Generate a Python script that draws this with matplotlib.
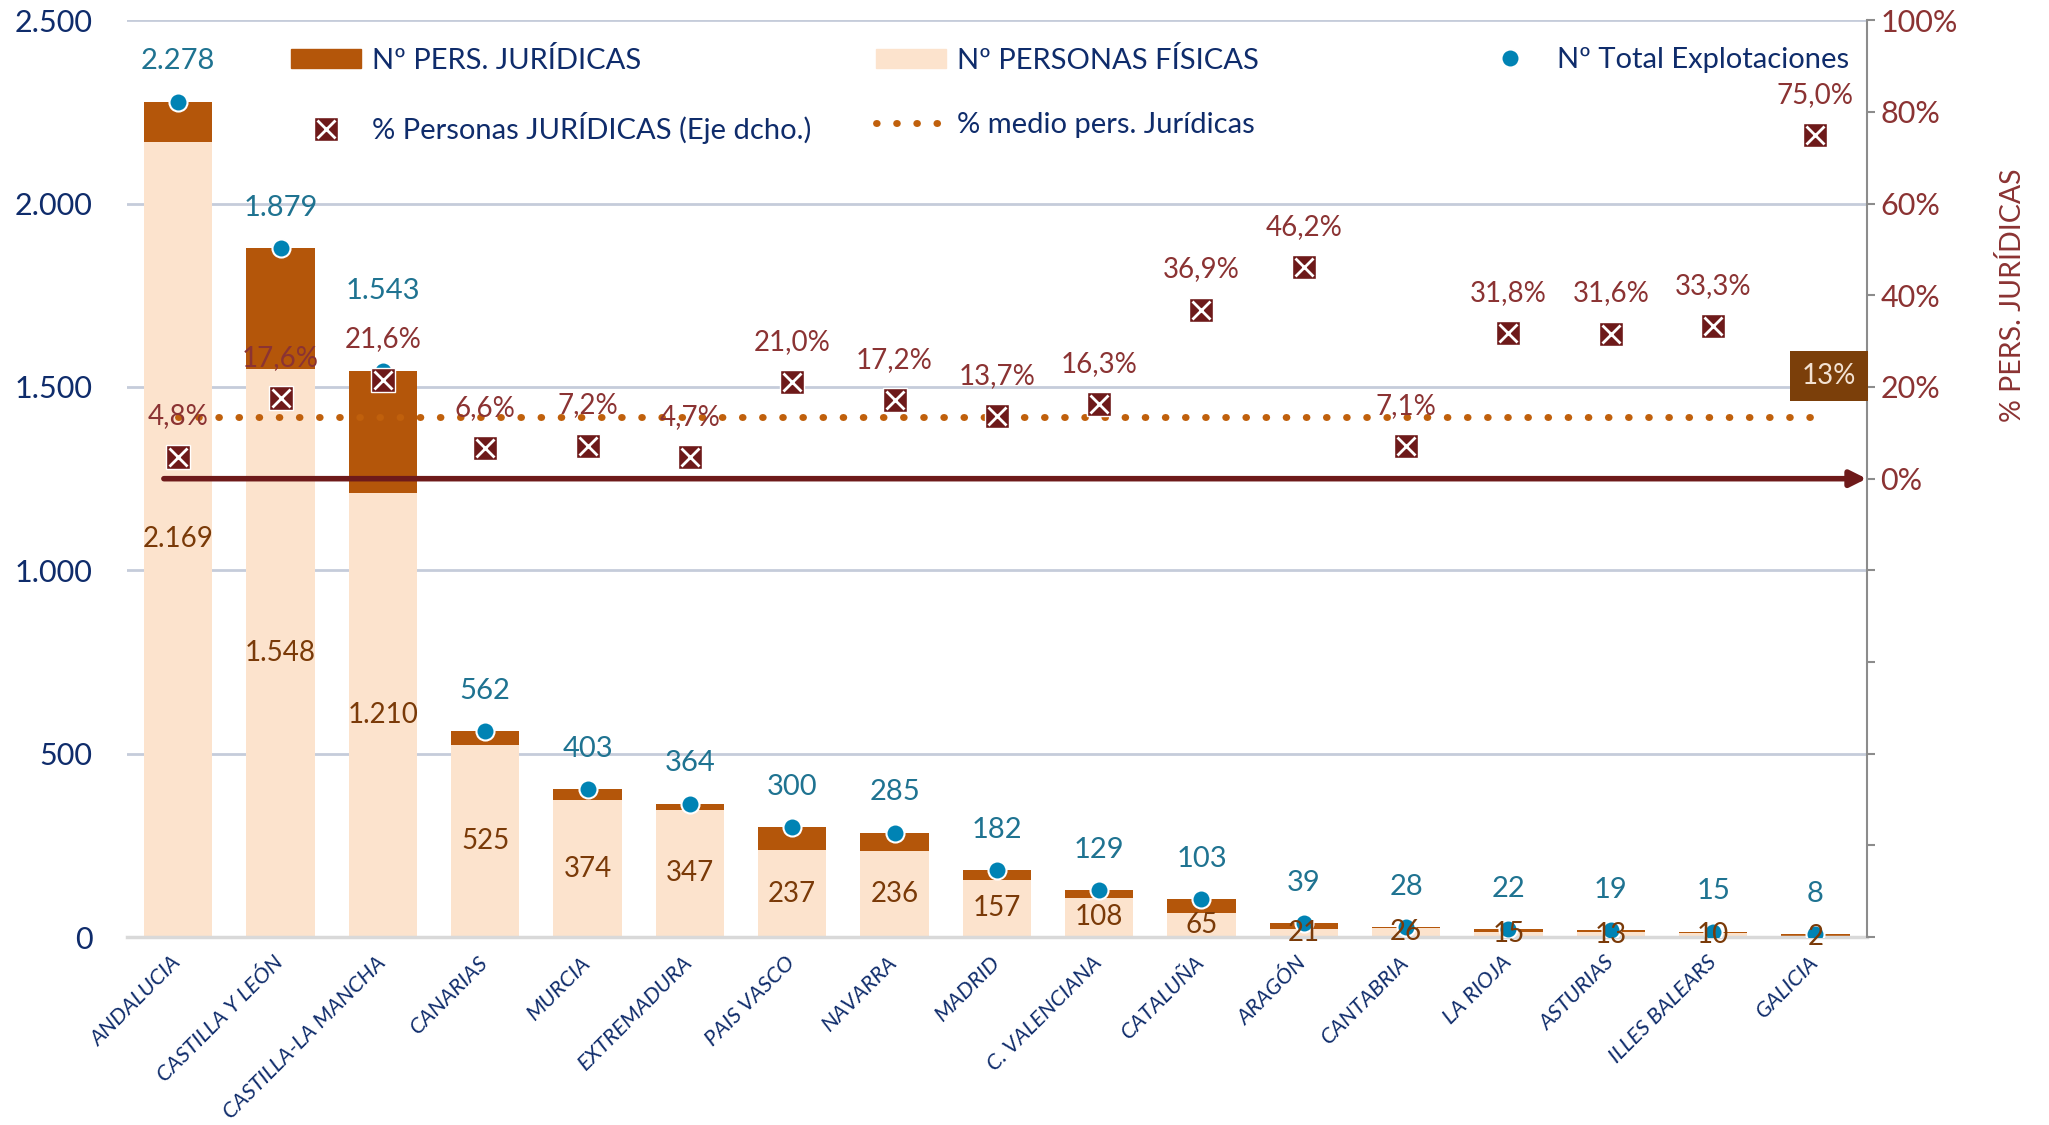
import matplotlib.pyplot as plt
from matplotlib.lines import Line2D
from matplotlib.patches import Patch
from matplotlib.ticker import MultipleLocator, FuncFormatter

regiones = ["ANDALUCIA", "CASTILLA Y LEÓN", "CASTILLA-LA MANCHA", "CANARIAS", "MURCIA",
            "EXTREMADURA", "PAIS VASCO", "NAVARRA", "MADRID", "C. VALENCIANA", "CATALUÑA",
            "ARAGÓN", "CANTABRIA", "LA RIOJA", "ASTURIAS", "ILLES BALEARS", "GALICIA"]
total = [2278, 1879, 1543, 562, 403, 364, 300, 285, 182, 129, 103, 39, 28, 22, 19, 15, 8]
fisicas = [2169, 1548, 1210, 525, 374, 347, 237, 236, 157, 108, 65, 21, 26, 15, 13, 10, 2]
juridicas = [t - f for t, f in zip(total, fisicas)]
pct_jur = [4.8, 17.6, 21.6, 6.6, 7.2, 4.7, 21.0, 17.2, 13.7, 16.3, 36.9, 46.2, 7.1, 31.8, 31.6, 33.3, 75.0]
pct_medio = 13.4

c_jur = "#B4560A"
c_fis = "#FCE3CD"
c_dot = "#0083B4"
c_mark = "#6E1A1A"
c_mean = "#C0600C"
c_navy = "#0F2C6B"
c_teal = "#1F7391"
c_brown = "#7A3A08"
c_red = "#8B3333"


def miles(v):
    return f"{v:,.0f}".replace(",", ".")


def pct(v):
    return f"{v:.1f}%".replace(".", ",")


plt.rcParams['font.family'] = ['Lato', 'DejaVu Sans']

fig = plt.figure(figsize=(20.49, 11.25), dpi=100)
ax = fig.add_axes([0.062, 0.167, 0.849, 0.815])
x = list(range(len(regiones)))

ax.bar(x, fisicas, width=0.67, color=c_fis, zorder=2)
ax.bar(x, juridicas, bottom=fisicas, width=0.67, color=c_jur, zorder=2)
ax.plot(x, total, ls="none", marker="o", ms=13, mfc=c_dot, mec="white", mew=1.5, zorder=4)

for i, (t, f) in enumerate(zip(total, fisicas)):
    dy = 58 if i == 2 else 29  # CLM label moved up in the original
    ax.annotate(miles(t), (i, t), xytext=(0, dy), textcoords="offset points",
                ha="center", va="center", color=c_teal, fontsize=21, zorder=5)
    ax.text(i, f / 2, miles(f), ha="center", va="center", color=c_brown, fontsize=20, zorder=5)

ax.set_xlim(-0.5, 16.5)
ax.set_ylim(0, 2500)
ax.yaxis.set_major_locator(MultipleLocator(500))
ax.yaxis.set_major_formatter(FuncFormatter(lambda v, p: miles(v)))
ax.grid(axis="y", color="#C5CCDA", lw=2)
ax.set_axisbelow(True)
for s in ["left", "top", "right"]:
    ax.spines[s].set_visible(False)
ax.spines["bottom"].set_color("#D9D9D9")
ax.spines["bottom"].set_linewidth(2.5)
ax.tick_params(axis="y", length=0, labelsize=22, labelcolor=c_navy, pad=25)
ax.set_xticks(x)
ax.set_xticklabels(regiones, rotation=45, ha="right", va="center", rotation_mode="anchor",
                   fontstyle="italic", fontsize=15.8, color=c_navy)
ax.tick_params(axis="x", length=0, pad=16)

ax2 = ax.twinx()
ax2.set_ylim(-100, 100)
ax2.yaxis.set_major_locator(MultipleLocator(20))
ax2.yaxis.set_major_formatter(FuncFormatter(lambda v, p: f"{v:.0f}%" if v >= 0 else ""))
for s in ["left", "top", "bottom"]:
    ax2.spines[s].set_visible(False)
ax2.spines["right"].set_color("#8C8C8C")
ax2.spines["right"].set_linewidth(1.5)
ax2.tick_params(axis="y", length=6, color="#8C8C8C", width=1.5, labelsize=22, labelcolor=c_red, pad=4)
ax2.set_ylabel("% PERS. JURÍDICAS", color=c_red, fontsize=20.5)
ax2.yaxis.set_label_coords(1.076, 0.70)

ax2.plot(x, [pct_medio] * len(x), ls=(0, (0.1, 2.8)), lw=5, color=c_mean,
         dash_capstyle="round", zorder=3)
ax2.annotate("", xy=(16.5, 0), xytext=(-0.14, 0),
             arrowprops=dict(arrowstyle="-|>", color=c_mark, lw=4, mutation_scale=24,
                             shrinkA=0, shrinkB=0), zorder=3)
ax2.plot(x, pct_jur, ls="none", marker="s", ms=17, mfc=c_mark, mec="white", mew=1, zorder=4)
ax2.plot(x, pct_jur, ls="none", marker="x", ms=13, mec="white", mew=2, zorder=5)
for i, v in enumerate(pct_jur):
    ax2.annotate(pct(v), (i, v), xytext=(0, 29), textcoords="offset points",
                 ha="center", va="center", color=c_red, fontsize=20, zorder=5)

ax2.text(len(x) - 1 + 0.13, pct_medio + 9, f"{pct_medio:.0f}%", ha="center", va="center",
         color="#F3E2D3", fontsize=20,
         bbox=dict(boxstyle="square,pad=0.42", fc="#7B3F0A", ec="none"), zorder=6)

h_jur = Patch(color=c_jur)
h_fis = Patch(color=c_fis)
h_pct = (Line2D([], [], ls="none", marker="s", ms=17, mfc=c_mark, mec="white"),
         Line2D([], [], ls="none", marker="x", ms=13, mec="white", mew=2))
h_mean = Line2D([], [], ls=(0, (0.1, 2.8)), lw=5, color=c_mean, dash_capstyle="round")
h_tot = Line2D([], [], ls="none", marker="o", ms=13, mfc=c_dot, mec="white", mew=1.5)

leg_kw = dict(frameon=False, fontsize=21, handlelength=2.4, handleheight=0.65,
              handletextpad=0.4, borderpad=0, borderaxespad=0, labelcolor=c_navy)
leg1 = ax2.legend([h_jur, h_pct, h_fis, h_mean],
                  ["Nº PERS. JURÍDICAS", "% Personas JURÍDICAS (Eje dcho.)",
                   "Nº PERSONAS FÍSICAS", "% medio pers. Jurídicas"],
                  ncol=2, loc="upper left", bbox_to_anchor=(0.094, 0.971),
                  columnspacing=2.2, labelspacing=1.3, **leg_kw)
ax2.add_artist(leg1)
ax2.legend([h_tot], ["Nº Total Explotaciones"], loc="upper right",
           bbox_to_anchor=(0.99, 0.971), **leg_kw)

fig.savefig("out.png", dpi=100)
